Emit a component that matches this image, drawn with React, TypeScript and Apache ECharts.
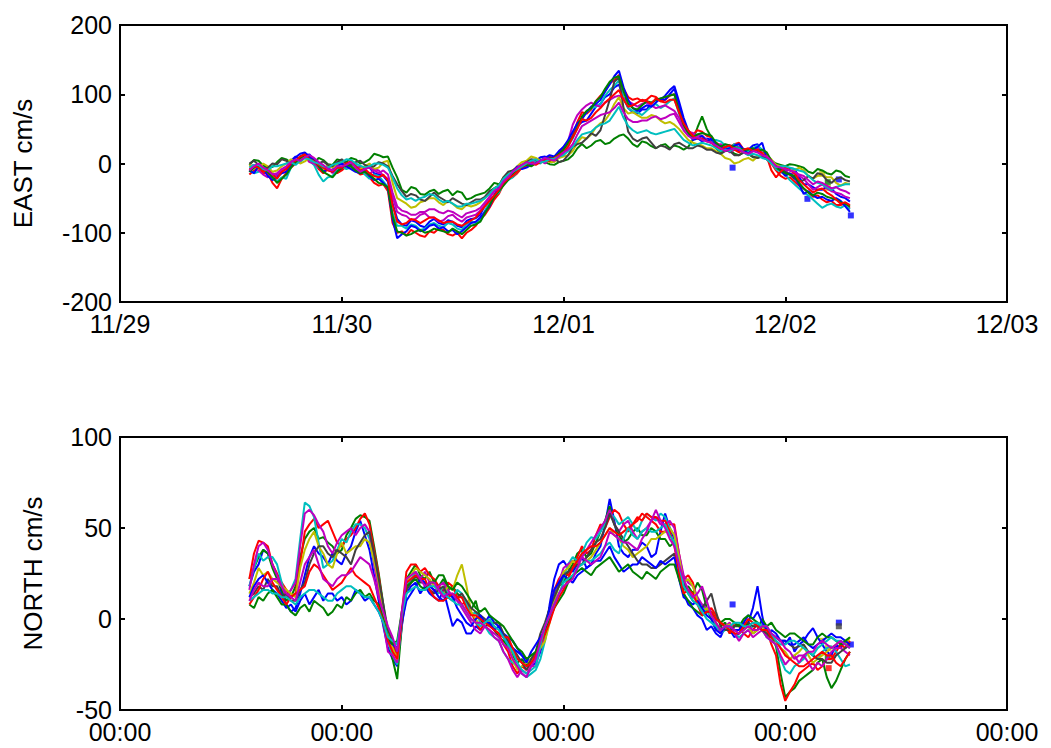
import React, { useEffect, useRef } from "react";
import * as echarts from "echarts";

// Hours since 11/29 00:00, half-hourly samples from 14:00 (11/29) to 07:00 (12/02)
const START_HOUR = 14;
const STEP_HOURS = 0.5;
const SAMPLE_COUNT = 131;
const HOURS: number[] = Array.from({ length: SAMPLE_COUNT }, (_, i) => START_HOUR + i * STEP_HOURS);

const DAY_LABELS = ["11/29", "11/30", "12/01", "12/02", "12/03"];
const TIME_LABELS = ["00:00", "00:00", "00:00", "00:00", "00:00"];

const COLORS = ["#0000FF", "#008000", "#FF0000", "#00BFBF", "#BF00BF", "#BFBF00", "#404040"];

// EAST cm/s
const eastBlue1 = [
  -12, -4, -2, -10, -14, -20, -16, -9, -8, 4, 10, 7, 12, 13, 6, -4, -10, -3, -6, -10,
  -8, -1, 2, -8, -12, -5, -6, -14, -16, -18, -26, -58, -80, -88, -90, -82, -84, -90, -92, -84,
  -80, -86, -88, -82, -84, -90, -92, -83, -80, -79, -74, -60, -52, -47, -38, -24, -16, -15, -9, -2,
  -2, 3, 4, 9, 10, 5, 4, 16, 24, 30, 40, 54, 60, 62, 72, 82, 86, 96, 100, 110,
  114, 94, 80, 74, 72, 78, 78, 87, 92, 92, 98, 106, 112, 90, 66, 48, 38, 37, 32, 36,
  34, 25, 22, 27, 26, 20, 18, 21, 20, 26, 28, 14, 6, 2, -4, -6, -12, -7, -8, -20,
  -30, -30, -34, -38, -38, -33, -36, -44, -48, -50, -55];
const eastGreen1 = [
  -2, 5, 4, -3, -6, -5, 2, 8, 6, 1, 3, 10, 12, 5, 0, 8, 5, -1, -2, 6,
  4, 2, 8, 6, 0, 2, 6, 14, 12, 9, 10, -6, -20, -38, -42, -34, -36, -44, -45, -40,
  -38, -44, -40, -38, -46, -40, -42, -52, -50, -46, -44, -42, -36, -28, -30, -26, -20, -12, -6, -2,
  -4, 0, 4, 6, 2, -1, -2, 2, 4, 6, 12, 22, 28, 22, 26, 32, 34, 28, 30, 36,
  40, 42, 36, 28, 24, 32, 30, 25, 22, 26, 28, 22, 26, 24, 20, 24, 34, 52, 68, 50,
  38, 22, 16, 20, 20, 14, 12, 16, 14, 9, 8, 12, 10, 4, 0, -2, -4, -1, -2, -4,
  -6, -12, -14, -8, -10, -14, -16, -10, -12, -18, -20];
const eastRed1 = [
  -16, -10, -8, -14, -14, -28, -36, -22, -14, -6, 0, 6, 10, 3, 2, -8, -14, -8, -10, -14,
  -10, -4, -2, -10, -16, -14, -20, -28, -32, -30, -40, -86, -100, -98, -104, -96, -100, -104, -106, -98,
  -100, -94, -96, -102, -104, -100, -108, -100, -96, -90, -80, -74, -64, -52, -44, -30, -20, -20, -14, -6,
  -4, 2, 4, 2, 8, 10, 6, 12, 22, 28, 40, 60, 74, 72, 78, 90, 98, 104, 116, 120,
  128, 108, 96, 92, 94, 90, 92, 98, 96, 90, 92, 98, 100, 80, 60, 46, 42, 48, 46, 40,
  38, 30, 26, 22, 24, 28, 30, 20, 16, 22, 22, 16, 14, 0, -10, -18, -22, -20, -26, -32,
  -36, -42, -48, -46, -52, -56, -54, -60, -60, -58, -64];
const eastCyan1 = [
  -10, -14, -12, -6, -8, -18, -26, -20, -22, -6, 6, 2, 8, 4, -2, -16, -26, -20, -18, -8,
  -4, -8, -6, -2, -8, -16, -22, -16, -18, -26, -34, -72, -90, -90, -94, -88, -90, -96, -94, -88,
  -86, -90, -92, -86, -88, -94, -96, -88, -84, -86, -82, -68, -56, -46, -42, -30, -24, -20, -12, -4,
  0, 4, 2, 0, 6, 8, 4, 10, 18, 26, 36, 52, 66, 74, 80, 82, 86, 98, 106, 112,
  120, 96, 80, 76, 74, 70, 76, 82, 86, 80, 84, 90, 94, 72, 54, 42, 36, 42, 40, 34,
  30, 34, 32, 26, 22, 28, 24, 18, 18, 22, 26, 20, 14, 2, -8, -12, -16, -24, -30, -36,
  -42, -46, -52, -58, -64, -60, -58, -62, -64, -60, -66];
const eastMagenta1 = [
  -4, -2, -10, -16, -20, -14, -18, -10, -6, 2, 4, 9, 10, 2, 0, -6, -8, -4, -14, -6,
  2, -2, -6, -8, -4, -12, -16, -8, -10, -18, -22, -48, -70, -74, -76, -82, -80, -74, -72, -78,
  -78, -84, -82, -76, -74, -80, -84, -78, -76, -74, -68, -60, -50, -40, -36, -24, -16, -14, -8, -2,
  -2, 2, 6, 4, 0, 6, 10, 8, 14, 32, 56, 70, 78, 84, 88, 84, 82, 88, 92, 96,
  98, 94, 90, 86, 82, 86, 88, 84, 80, 82, 84, 80, 76, 66, 52, 46, 44, 40, 40, 34,
  30, 26, 28, 22, 16, 20, 24, 16, 12, 18, 22, 14, 8, 0, -6, -8, -10, -16, -14, -18,
  -22, -30, -38, -34, -30, -36, -40, -42, -44, -48, -50];
const eastYellow1 = [
  -2, -6, -8, 0, -4, -12, -10, -4, 0, 6, 4, 0, 3, 8, 6, -4, -9, -2, -6, -2,
  4, 0, -4, -10, -8, -4, 0, -8, -6, 2, 4, -28, -50, -54, -58, -64, -62, -56, -54, -50,
  -50, -56, -60, -54, -58, -64, -66, -60, -62, -60, -56, -50, -42, -36, -32, -20, -14, -10, -4, 2,
  4, 10, 8, 4, 6, 2, 2, 8, 10, 12, 18, 30, 38, 36, 42, 52, 58, 62, 72, 86,
  96, 80, 72, 74, 70, 66, 66, 70, 68, 62, 58, 60, 56, 50, 42, 34, 30, 28, 26, 22,
  22, 18, 14, 8, 6, 0, 2, 6, 8, 4, 10, 14, 12, 6, -2, -4, -6, -10, -10, -6,
  -10, -18, -22, -18, -16, -20, -20, -28, -32, -28, -30];
const eastGray1 = [
  0, 4, -2, -8, -6, 0, -1, 6, 4, -2, 2, 10, 14, 8, 6, 0, 3, -2, -4, 2,
  6, 0, -2, 2, 4, -2, -5, -4, 2, 0, -4, -18, -30, -40, -48, -44, -46, -52, -54, -48,
  -42, -48, -52, -56, -50, -54, -58, -60, -56, -52, -52, -48, -40, -36, -32, -20, -12, -10, -6, -2,
  2, 6, 5, 2, 4, 8, 8, 2, 4, 12, 24, 28, 30, 36, 44, 40, 48, 70, 92, 118,
  124, 80, 46, 36, 32, 36, 38, 30, 22, 26, 24, 20, 28, 30, 26, 22, 22, 26, 24, 20,
  20, 16, 14, 18, 18, 12, 12, 16, 14, 10, 8, 10, 6, 0, -4, -8, -12, -16, -22, -26,
  -24, -18, -22, -14, -16, -24, -28, -22, -20, -24, -26];
const eastBlue2 = [
  -10, -14, -4, -8, -18, -24, -20, -14, -12, -2, 9, 14, 16, 10, 6, -2, -12, -8, -12, -4,
  0, -4, -8, -12, -14, -10, -18, -24, -22, -28, -36, -80, -108, -102, -98, -90, -92, -98, -96, -90,
  -88, -94, -92, -98, -96, -102, -98, -92, -86, -84, -78, -70, -62, -46, -34, -30, -22, -12, -4, -8,
  -6, -2, 0, 4, 8, 12, 10, 18, 24, 34, 46, 58, 64, 74, 82, 86, 92, 104, 114, 126,
  134, 110, 92, 80, 76, 80, 84, 82, 88, 94, 92, 100, 108, 86, 62, 44, 34, 36, 40, 32,
  36, 28, 24, 20, 22, 26, 28, 20, 14, 20, 24, 30, 8, 2, -4, -10, -18, -14, -20, -30,
  -44, -40, -46, -50, -48, -52, -54, -50, -54, -62, -70];
const eastGreen2 = [
  -12, -6, -4, -10, -12, -20, -28, -22, -16, -6, 2, 8, 12, 6, 4, -4, -12, -16, -20, -12,
  -6, -2, -4, -10, -14, -12, -16, -22, -28, -30, -34, -76, -98, -100, -104, -102, -98, -96, -100, -98,
  -94, -96, -98, -100, -94, -98, -102, -96, -90, -88, -84, -72, -60, -48, -40, -32, -24, -16, -10, -4,
  -2, -4, 0, 2, 6, 4, 8, 14, 20, 30, 38, 52, 68, 76, 80, 90, 96, 108, 118, 124,
  126, 104, 86, 80, 78, 84, 90, 88, 92, 94, 96, 98, 100, 76, 56, 44, 38, 42, 44, 42,
  40, 30, 24, 28, 26, 24, 22, 20, 20, 22, 18, 20, 16, 4, -6, -10, -14, -16, -18, -28,
  -36, -42, -46, -42, -44, -48, -50, -52, -56, -58, -62];
const eastRed2 = [
  -8, -4, -6, -12, -8, -16, -22, -12, -8, 0, 4, 10, 13, 6, 3, -2, -6, -10, -12, -6,
  -6, 0, 3, -4, -10, -8, -14, -18, -20, -16, -24, -60, -84, -88, -86, -80, -82, -86, -82, -78,
  -78, -82, -86, -84, -84, -88, -90, -86, -82, -78, -70, -62, -54, -46, -38, -28, -22, -18, -12, -4,
  0, 2, -2, 2, 6, 4, 8, 12, 16, 24, 38, 50, 64, 62, 66, 74, 80, 88, 94, 100,
  106, 92, 82, 84, 88, 92, 90, 86, 94, 90, 88, 92, 92, 74, 58, 48, 40, 36, 36, 32,
  30, 24, 20, 24, 26, 20, 16, 20, 22, 18, 20, 14, 10, -10, -20, -12, -6, -10, -14, -24,
  -30, -36, -42, -38, -36, -42, -46, -52, -58, -56, -60];
const eastCyan2 = [
  -6, -2, -2, -8, -10, -4, -4, -2, 0, 2, -2, 4, 8, 6, 2, 0, -4, -6, -2, 0,
  2, 6, 5, 0, -3, -6, -4, 0, 0, -2, -6, -20, -36, -46, -52, -50, -54, -50, -48, -44,
  -46, -52, -56, -54, -58, -62, -62, -58, -58, -56, -54, -50, -44, -36, -32, -22, -16, -12, -8, -4,
  0, 4, 6, 2, 3, 6, 7, 10, 12, 18, 24, 34, 42, 44, 46, 52, 56, 58, 62, 72,
  82, 66, 54, 48, 44, 46, 48, 44, 42, 44, 46, 48, 50, 42, 34, 30, 26, 28, 30, 28,
  26, 22, 18, 20, 18, 22, 22, 16, 12, 14, 12, 8, 6, 0, -6, -4, -4, -6, -8, -10,
  -12, -18, -24, -28, -30, -34, -38, -34, -32, -30, -30];
const eastMagenta2 = [
  -10, -4, 0, -6, -10, -16, -14, -8, -4, 2, 6, 4, 9, 12, 8, 2, -2, -8, -10, -4,
  -4, -2, 2, -6, -12, -8, -6, -10, -14, -10, -16, -42, -62, -68, -70, -74, -74, -70, -70, -66,
  -66, -70, -72, -68, -70, -74, -78, -72, -70, -68, -64, -56, -48, -40, -36, -26, -20, -12, -6, -2,
  2, 0, 0, 4, 8, 6, 4, 10, 16, 20, 28, 42, 54, 58, 62, 66, 70, 72, 74, 80,
  88, 74, 64, 60, 60, 62, 62, 66, 68, 64, 66, 70, 72, 60, 48, 40, 36, 38, 34, 32,
  30, 26, 22, 18, 20, 22, 20, 16, 14, 18, 16, 12, 10, 4, -4, -6, -8, -10, -12, -16,
  -18, -24, -30, -26, -28, -32, -36, -34, -38, -40, -44];

// NORTH cm/s
const northBlue1 = [
  18, 26, 30, 38, 36, 30, 24, 14, 8, 4, 6, 14, 24, 34, 40, 36, 34, 30, 36, 32,
  30, 36, 40, 48, 54, 46, 38, 24, 10, -4, -16, -22, -26, -4, 14, 18, 20, 14, 18, 14,
  12, 10, 16, 6, -4, 0, -2, -8, -8, -4, -6, -2, 2, -2, -4, -8, -10, -12, -16, -20,
  -22, -26, -24, -18, -10, 8, 22, 30, 32, 28, 26, 30, 34, 28, 30, 36, 40, 52, 66, 54,
  40, 36, 34, 38, 38, 42, 40, 34, 36, 48, 58, 50, 44, 28, 14, 8, 6, 2, 0, -6,
  -4, -8, -10, -4, -6, -10, -8, -4, -2, 6, 18, 2, -10, -6, -8, -12, -14, -10, -18, -14,
  -12, -8, -5, -10, -14, -18, -20, -14, -16, -12, -14];
const northGreen1 = [
  22, 28, 34, 38, 36, 28, 22, 16, 10, 12, 18, 34, 44, 48, 50, 44, 45, 42, 40, 36,
  38, 46, 50, 55, 57, 56, 54, 40, 25, 8, -10, -22, -33, -4, 22, 26, 30, 24, 22, 26,
  20, 18, 22, 16, 18, 14, 12, 8, 5, 10, 0, -4, -3, -6, -10, -12, -15, -20, -24, -22,
  -26, -22, -20, -14, -4, 6, 14, 18, 20, 26, 30, 36, 38, 34, 36, 42, 48, 54, 62, 52,
  46, 42, 44, 48, 50, 46, 46, 50, 48, 44, 44, 40, 42, 30, 16, 18, 14, 20, 16, 6,
  0, -6, -4, -2, -8, -4, -3, -6, -2, -8, -6, 0, -4, -10, -15, -30, -43, -40, -38, -34,
  -32, -30, -28, -24, -22, -32, -38, -34, -28, -22, -18];
const northRed1 = [
  22, 36, 43, 42, 40, 30, 25, 20, 16, 12, 14, 30, 48, 52, 55, 50, 52, 54, 48, 42,
  40, 44, 46, 50, 55, 58, 52, 38, 24, 6, -8, -14, -20, 4, 26, 30, 30, 26, 28, 24,
  22, 18, 16, 20, 18, 12, 8, 10, 4, -2, -6, -2, -2, -6, -8, -14, -18, -26, -30, -26,
  -28, -24, -22, -14, -6, 4, 16, 22, 26, 24, 28, 34, 40, 36, 38, 46, 52, 50, 56, 60,
  58, 52, 48, 52, 54, 58, 56, 54, 52, 48, 48, 52, 52, 36, 22, 24, 20, 10, 2, 4,
  6, 2, -2, -4, -8, -2, -4, -8, -10, -6, -3, -4, -6, -14, -20, -36, -45, -40, -36, -30,
  -28, -26, -24, -28, -26, -22, -22, -18, -14, -16, -12];
const northCyan1 = [
  18, 28, 36, 32, 34, 34, 30, 20, 12, 16, 22, 44, 64, 62, 56, 42, 28, 30, 32, 38,
  44, 42, 48, 52, 52, 50, 44, 30, 18, 2, -12, -20, -25, -2, 18, 22, 26, 22, 20, 18,
  16, 14, 18, 14, 12, 16, 14, 8, 2, 4, -2, -4, -8, -10, -12, -18, -22, -24, -26, -30,
  -32, -30, -28, -22, -12, 0, 12, 18, 22, 30, 34, 32, 36, 42, 45, 44, 48, 52, 58, 56,
  52, 54, 56, 52, 48, 54, 58, 56, 54, 58, 56, 50, 46, 30, 18, 14, 12, 10, 8, 4,
  2, -4, -8, -6, -4, -8, -10, -8, -6, -4, -2, -6, -10, -12, -14, -22, -28, -30, -26, -24,
  -22, -18, -20, -22, -18, -16, -15, -18, -22, -26, -25];
const northMagenta1 = [
  16, 30, 40, 42, 38, 30, 24, 18, 12, 16, 20, 40, 58, 60, 57, 52, 48, 40, 36, 42,
  46, 48, 50, 46, 50, 52, 48, 30, 15, -2, -18, -20, -24, -2, 16, 20, 24, 22, 26, 20,
  15, 18, 20, 16, 12, 10, 6, 2, -2, -6, -8, -4, -6, -10, -12, -18, -22, -28, -32, -28,
  -30, -26, -26, -16, -8, 4, 10, 20, 28, 30, 32, 30, 34, 38, 42, 46, 50, 54, 60, 52,
  48, 52, 54, 48, 44, 48, 50, 54, 56, 52, 52, 54, 50, 36, 24, 20, 18, 12, 8, 6,
  4, -2, -8, -4, -2, -8, -12, -8, -6, -10, -8, -6, -10, -12, -14, -20, -25, -22, -20, -24,
  -20, -24, -28, -24, -26, -22, -18, -16, -16, -18, -20];
const northYellow1 = [
  14, 20, 28, 24, 26, 22, 20, 18, 16, 14, 12, 28, 38, 44, 48, 40, 36, 30, 28, 36,
  42, 36, 38, 40, 40, 44, 42, 32, 20, 4, -8, -16, -22, 2, 20, 24, 28, 26, 24, 22,
  18, 16, 14, 18, 16, 24, 30, 18, 4, 0, -4, -2, -1, -4, -6, -10, -14, -22, -28, -26,
  -24, -22, -18, -16, -12, -2, 10, 18, 26, 28, 32, 30, 30, 32, 34, 38, 42, 46, 50, 46,
  44, 40, 38, 34, 36, 38, 40, 44, 44, 46, 48, 50, 46, 34, 20, 22, 18, 10, 4, 6,
  2, -2, -6, -4, -3, -6, -8, -6, -4, -8, -6, -4, -8, -10, -12, -16, -18, -22, -20, -18,
  -15, -20, -24, -22, -20, -18, -16, -14, -12, -14, -10];
const northGray1 = [
  12, 14, 18, 16, 22, 18, 18, 12, 14, 10, 10, 16, 20, 30, 36, 40, 40, 36, 34, 38,
  36, 34, 30, 38, 42, 46, 48, 36, 22, 8, -6, -12, -18, 0, 16, 20, 24, 20, 20, 16,
  14, 16, 18, 12, 10, 12, 14, 10, 6, 4, 2, 0, -4, -2, -2, -8, -12, -16, -20, -24,
  -28, -22, -18, -8, -2, 6, 12, 18, 24, 26, 28, 30, 30, 34, 38, 42, 44, 50, 58, 52,
  48, 44, 40, 36, 32, 30, 30, 28, 28, 30, 32, 34, 36, 28, 20, 14, 10, 8, 6, 10,
  14, 4, -4, -6, -6, -4, -4, -2, -2, -4, -4, -6, -8, -10, -10, -12, -12, -14, -16, -15,
  -14, -18, -20, -22, -22, -24, -24, -20, -18, -16, -14];
const northBlue2 = [
  12, 18, 22, 24, 20, 16, 14, 10, 6, 8, 4, 10, 14, 8, 12, 16, 10, 14, 14, 10,
  12, 8, 10, 16, 14, 10, 12, 8, 4, -2, -12, -14, -16, -2, 10, 14, 18, 22, 20, 18,
  16, 12, 10, 14, 12, 6, 2, -2, -4, 0, 2, -2, -2, -6, -4, -10, -14, -16, -18, -20,
  -24, -18, -14, -10, -6, 6, 16, 20, 24, 22, 20, 24, 26, 28, 30, 32, 32, 36, 40, 34,
  30, 26, 28, 30, 30, 34, 32, 30, 28, 32, 30, 32, 34, 22, 12, 10, 8, 10, 6, 2,
  0, -6, -8, -4, -4, -6, -6, -2, 2, 0, 4, -2, -6, -8, -10, -12, -12, -14, -14, -12,
  -10, -14, -16, -14, -12, -10, -8, -10, -10, -12, -14];
const northGreen2 = [
  8, 6, 12, 10, 14, 16, 12, 8, 8, 4, 2, 6, 8, 4, 10, 8, 6, 2, 4, 8,
  6, 12, 10, 14, 16, 12, 14, 10, 8, 0, -10, -14, -12, 4, 18, 20, 22, 18, 16, 20,
  20, 24, 24, 18, 16, 20, 18, 14, 10, 6, 4, 6, 2, 0, -2, -4, -8, -12, -16, -18,
  -22, -20, -18, -12, -8, 0, 6, 10, 14, 20, 24, 26, 28, 26, 24, 28, 30, 32, 34, 30,
  26, 28, 30, 26, 24, 22, 26, 24, 22, 26, 28, 30, 30, 22, 14, 10, 6, 4, 2, 4,
  4, 0, -2, 0, 0, -2, -4, 0, 2, 0, -2, -4, -4, -2, -6, -8, -10, -8, -8, -10,
  -12, -14, -14, -10, -8, -10, -10, -12, -14, -12, -10];
const northRed2 = [
  8, 12, 16, 22, 26, 20, 16, 12, 8, 12, 14, 16, 18, 26, 30, 28, 24, 20, 16, 18,
  20, 24, 28, 24, 22, 20, 18, 12, 6, -2, -12, -18, -22, 0, 20, 22, 24, 22, 22, 16,
  12, 10, 10, 12, 14, 12, 12, 6, 2, 2, 0, -2, -4, -6, -8, -10, -10, -16, -22, -24,
  -26, -24, -20, -14, -8, -2, 6, 12, 16, 22, 28, 32, 36, 38, 40, 40, 42, 46, 50, 48,
  46, 48, 50, 52, 56, 54, 58, 56, 56, 54, 54, 48, 40, 26, 14, 16, 14, 8, 2, 4,
  4, 0, -2, -4, -6, -8, -8, -4, 0, -2, -4, -6, -6, -10, -12, -16, -20, -22, -24, -26,
  -26, -24, -22, -20, -18, -20, -20, -24, -26, -22, -18];
const northCyan2 = [
  10, 12, 14, 16, 16, 14, 14, 12, 12, 10, 8, 12, 14, 16, 16, 14, 12, 10, 10, 14,
  16, 18, 18, 16, 14, 12, 12, 8, 4, -2, -10, -12, -14, 2, 14, 16, 18, 16, 16, 18,
  18, 16, 14, 12, 10, 8, 8, 4, 0, -2, -4, -2, 0, -4, -6, -10, -14, -18, -24, -28,
  -30, -28, -26, -14, -4, 2, 8, 14, 20, 22, 24, 28, 30, 32, 32, 34, 36, 40, 42, 38,
  36, 44, 50, 46, 44, 48, 50, 48, 48, 50, 52, 46, 42, 30, 18, 14, 10, 8, 4, 0,
  -2, -4, -6, -4, -4, -2, -2, -4, -4, -2, -2, -4, -4, -8, -12, -14, -14, -12, -12, -14,
  -16, -18, -20, -16, -14, -12, -10, -12, -12, -14, -16];
const northMagenta2 = [
  10, 16, 20, 18, 18, 22, 22, 18, 14, 12, 10, 20, 30, 34, 38, 30, 22, 20, 18, 22,
  24, 24, 26, 30, 34, 32, 30, 22, 12, 4, -4, -10, -18, 4, 22, 24, 26, 22, 18, 20,
  20, 16, 12, 14, 14, 10, 8, 4, 0, -2, -2, -4, -6, -8, -10, -14, -16, -22, -26, -30,
  -32, -26, -22, -12, -4, 2, 8, 14, 18, 20, 22, 28, 34, 32, 30, 32, 34, 40, 48, 46,
  44, 42, 42, 40, 38, 44, 48, 54, 60, 54, 50, 44, 40, 30, 22, 16, 12, 14, 18, 10,
  2, -2, -6, -4, -4, -6, -8, -6, -4, -6, -6, -4, -4, -8, -10, -12, -16, -18, -22, -20,
  -20, -18, -18, -14, -12, -14, -16, -14, -12, -14, -16];

// Isolated samples (drawn as small squares)
const eastMarkHours = [66.3, 74.4, 76.0, 76.6, 76.6, 77.8, 79.1];
const eastMarkValues = [-6, -51, -15, -27, -35, -23, -75];
const eastMarkColor = [0, 0, 5, 1, 5, 0, 0];
const northMarkHours = [66.3, 76.0, 76.6, 76.6, 76.7, 77.8, 77.8, 79.1];
const northMarkValues = [8, -12, -16, -21, -27, -2, -4, -14];
const northMarkColor = [0, 5, 5, 1, 2, 0, 6, 0];

const EAST_SERIES = [eastBlue1, eastGreen1, eastRed1, eastCyan1, eastMagenta1, eastYellow1, eastGray1, eastBlue2, eastGreen2, eastRed2, eastCyan2, eastMagenta2];
const NORTH_SERIES = [northBlue1, northGreen1, northRed1, northCyan1, northMagenta1, northYellow1, northGray1, northBlue2, northGreen2, northRed2, northCyan2, northMagenta2];

const FONT = "Liberation Sans, Arial, sans-serif";

export default function App() {
  const ref = useRef<HTMLDivElement>(null);
  useEffect(() => {
    if (!ref.current) return;
    const chart = echarts.init(ref.current, undefined, { renderer: "svg" });
    const tick = { show: true, inside: true, length: 5, lineStyle: { color: "#000", width: 2 } };
    const line = { show: true, onZero: false, lineStyle: { color: "#000", width: 2 } };
    const lbl = { color: "#000", fontSize: 25, fontFamily: FONT };
    const xAxisDef = (grid: number, labels: string[] | null, pos: string) => ({
      type: "value", gridIndex: grid, position: pos, min: 0, max: 96, interval: 24,
      axisLine: line, axisTick: tick, splitLine: { show: false },
      axisLabel: labels
        ? { ...lbl, margin: 9, formatter: (v: number) => labels[Math.round(v / 24)] ?? "" }
        : { show: false },
    });
    const yAxisDef = (grid: number, min: number, max: number, interval: number, pos: string, name?: string, gap?: number) => ({
      type: "value", gridIndex: grid, position: pos, min, max, interval,
      axisLine: line, axisTick: tick, splitLine: { show: false },
      axisLabel: name ? { ...lbl, margin: 8 } : { show: false },
      name: name ?? "", nameLocation: "middle", nameGap: gap ?? 0,
      nameTextStyle: { color: "#000", fontSize: 26, fontFamily: FONT },
    });
    const mkLines = (arrs: number[][], xi: number, yi: number) =>
      arrs.map((arr, k) => ({
        type: "line", xAxisIndex: xi, yAxisIndex: yi, showSymbol: false, silent: true,
        lineStyle: { width: 2, color: COLORS[k % COLORS.length] },
        itemStyle: { color: COLORS[k % COLORS.length] },
        data: arr.map((v, i) => [HOURS[i], v]),
      }));
    const mkMarks = (hs: number[], vs: number[], cs: number[], xi: number, yi: number) => ({
      type: "scatter", xAxisIndex: xi, yAxisIndex: yi, symbol: "rect", symbolSize: 6, silent: true,
      data: hs.map((h, i) => ({ value: [h, vs[i]], itemStyle: { color: COLORS[cs[i]] } })),
    });
    chart.setOption({
      animation: false,
      backgroundColor: "#fff",
      grid: [
        { left: 120, top: 25, width: 887, height: 277, show: true, borderColor: "#000", borderWidth: 2 },
        { left: 120, top: 437, width: 887, height: 273, show: true, borderColor: "#000", borderWidth: 2 },
      ],
      xAxis: [
        xAxisDef(0, DAY_LABELS, "bottom"),
        xAxisDef(0, null, "top"),
        xAxisDef(1, TIME_LABELS, "bottom"),
        xAxisDef(1, null, "top"),
      ],
      yAxis: [
        yAxisDef(0, -200, 200, 100, "left", "EAST cm/s", 84),
        yAxisDef(0, -200, 200, 100, "right"),
        yAxisDef(1, -50, 100, 50, "left", "NORTH cm/s", 74),
        yAxisDef(1, -50, 100, 50, "right"),
      ],
      series: [
        ...mkLines(EAST_SERIES, 0, 0),
        mkMarks(eastMarkHours, eastMarkValues, eastMarkColor, 0, 0),
        ...mkLines(NORTH_SERIES, 2, 2),
        mkMarks(northMarkHours, northMarkValues, northMarkColor, 2, 2),
      ],
    });
    return () => chart.dispose();
  }, []);
  return <div ref={ref} style={{ position: "fixed", left: 0, top: 0, width: 1051, height: 748, background: "#fff" }} />;
}
